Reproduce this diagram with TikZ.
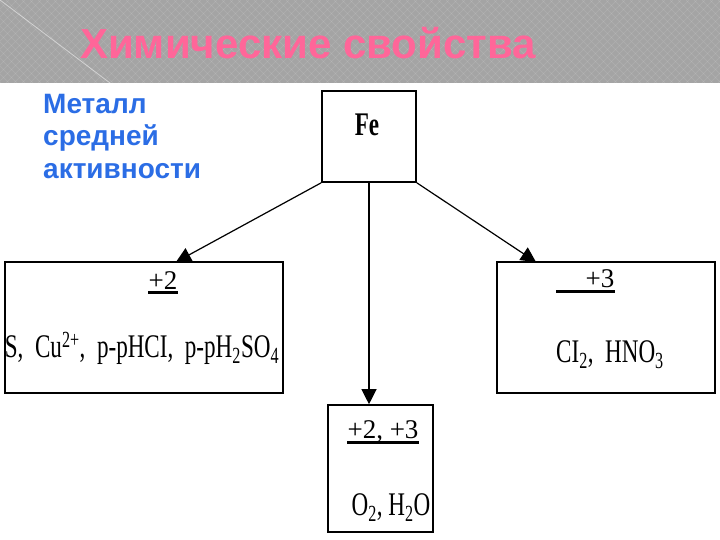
\documentclass[tikz,border=0pt]{standalone}
\usepackage{fontspec}
\setmainfont{Liberation Serif}
\newfontfamily\headfont{Liberation Sans}
\newfontfamily\formfont[FakeStretch=0.70]{Liberation Serif}
\usetikzlibrary{arrows.meta}
\definecolor{banner}{HTML}{A4A4A4}
\definecolor{titlepink}{HTML}{FF6699}
\definecolor{noteblue}{HTML}{2B6DE5}
\begin{document}
\begin{tikzpicture}[x=1pt, y=-1pt,
  chembox/.style={draw, line width=1.6pt, inner sep=0pt},
  ox/.style={anchor=base, inner sep=0pt, font=\fontsize{27}{32}\selectfont},
  reag/.style={anchor=base, inner sep=0pt, font=\formfont\fontsize{33}{40}\selectfont},
  >={Triangle[length=15pt, width=15pt]}]
 \useasboundingbox (0,0) rectangle (720,540);
 % banner
 \fill[banner] (0,0) rectangle (720,83);
 \begin{scope}
  \clip (0,0) rectangle (720,83);
  \foreach \i in {-90,-82,...,720}
   \draw[white, opacity=0.12, line width=0.5pt] (\i,0) -- ++(83,83) (\i+83,0) -- ++(-83,83);
  \draw[white, opacity=0.5, line width=0.8pt] (0,0) -- (110,83);
 \end{scope}
 \node[font=\headfont\bfseries\fontsize{42}{50}\selectfont, text=titlepink] (title) at (308,43) {Химические свойства};
 \node[anchor=north west, inner sep=0pt, align=left, text=noteblue, font=\headfont\bfseries\fontsize{28}{32.5}\selectfont] (note) at (43,94) {Металл\\средней\\активности};
 % boxes
 \node[chembox, minimum width=94pt, minimum height=91pt] (fe) at (369,136.5) {};
 \node[anchor=base, inner sep=0pt, font=\formfont\bfseries\fontsize{33}{40}\selectfont] (fetext) at (367,136) {Fe};
 \node[chembox, minimum width=278pt, minimum height=131pt] (lbox) at (144,327.5) {};
 \node[chembox, minimum width=218pt, minimum height=131pt] (rbox) at (606,327.5) {};
 \node[chembox, minimum width=105pt, minimum height=127pt] (mbox) at (380.5,468.5) {};
 % oxidation states
 \node[ox] (lox) at (163,289) {+2};
 \node[ox] (rox) at (600,287) {+3};
 \node[ox] (mox) at (383,438) {+2, +3};
 \draw[line width=3pt] ([yshift=-3pt]lox.base west) -- ([yshift=-3pt]lox.base east);
 \draw[line width=3pt] ([xshift=-29pt,yshift=-4pt]rox.base west) -- ([yshift=-4pt]rox.base east);
 \draw[line width=3pt] ([yshift=-4pt]mox.base west) -- ([yshift=-4pt]mox.base east);
 % reagents
 \node[reag] (lreag) at (142,357) {S,\ \ Cu\textsuperscript{2+},\ \ p-pHCI,\ \ p-pH\textsubscript{2}SO\textsubscript{4}};
 \node[reag] (rreag) at (610,362) {CI\textsubscript{2},\ \ HNO\textsubscript{3}};
 \node[reag] (mreag) at (391,515) {O\textsubscript{2}, H\textsubscript{2}O};
 % arrows
 \coordinate (ltip) at (176,262);
 \coordinate (rtip) at (536,262);
 \draw[->, line width=1.2pt] (fe.south west) -- (ltip);
 \draw[->, line width=1.2pt] (fe.south east) -- (rtip);
 \draw[->, line width=1.2pt] (fe.south) -- (fe.south |- mbox.north);
\end{tikzpicture}
\end{document}
